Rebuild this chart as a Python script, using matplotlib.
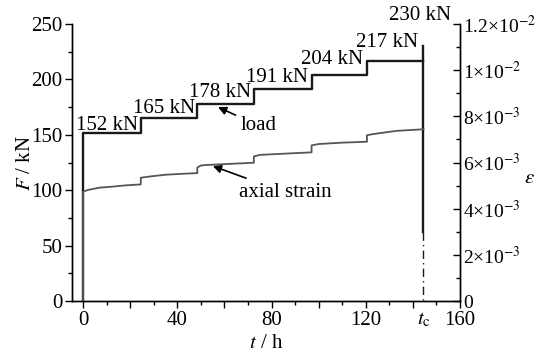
import numpy as np
import matplotlib
matplotlib.use('Agg')
import matplotlib.pyplot as plt
from matplotlib.ticker import MultipleLocator, FuncFormatter

plt.rcParams['font.family'] = ['Liberation Serif', 'DejaVu Serif']
plt.rcParams['mathtext.fontset'] = 'stix'
plt.rcParams['font.size'] = 15

# load steps (t in h, F in kN)
load_t = [0, 0, 24.5, 24.5, 48.5, 48.5, 72.5, 72.5, 97, 97, 120.5, 120.5, 144.5]
load_F = [0, 152, 152, 165, 165, 178, 178, 191, 191, 204, 204, 217, 217]
load_labels = ['152 kN', '165 kN', '178 kN', '191 kN', '204 kN', '217 kN', '230 kN']
label_t = [-3, 21, 45, 69, 92.5, 116, 130]
label_F = [154, 170, 184, 197.5, 214, 229, 253.5]

# failure at t_c
t_c = 144.5
F_fail = 230
F_dash = 62

# axial strain (x1e-3)
strain_t = [0, 0, 2, 7, 12, 18, 24.5,
            24.5, 28, 35, 42, 48.5,
            48.5, 50, 52, 60, 72.5,
            72.5, 75, 85, 97,
            97, 100, 110, 120.5,
            120.5, 123, 133, 144.5]
strain_e = [0, 4.73, 4.81, 4.91, 4.95, 5.01, 5.05,
            5.34, 5.39, 5.47, 5.51, 5.54,
            5.78, 5.87, 5.89, 5.93, 5.99,
            6.26, 6.33, 6.38, 6.44,
            6.74, 6.80, 6.86, 6.90,
            7.18, 7.23, 7.37, 7.44]

fig = plt.figure(figsize=(5.38, 3.53), dpi=100)
ax = fig.add_axes([0.1338, 0.1473, 0.855 - 0.1338, 0.932 - 0.1473])
ax2 = ax.twinx()

ax.plot(load_t, load_F, color='#1a1a1a', lw=1.7, zorder=3)
ax.plot([t_c, t_c], [F_fail, F_dash], color='#1a1a1a', lw=1.7, zorder=3)
ax.plot([t_c, t_c], [F_dash, 0], color='#1a1a1a', lw=1.0, ls=(0, (6, 3, 1, 3)), zorder=3)
ax2.plot(strain_t, np.array(strain_e) * 1e-3, color='#555555', lw=1.3)

for s, x, y in zip(load_labels, label_t, label_F):
    ax.text(x, y, s, ha='left', va='baseline', clip_on=False)

ax.annotate('load', xy=(57.3, 175), xytext=(67, 154), ha='left', va='baseline',
            arrowprops=dict(arrowstyle='-|>', color='black', lw=1.2, shrinkA=2, shrinkB=0,
                            mutation_scale=12))
ax.annotate('axial strain', xy=(55.1, 121.8), xytext=(66, 94), ha='left', va='baseline',
            arrowprops=dict(arrowstyle='-|>', color='black', lw=1.2, shrinkA=4, shrinkB=0,
                            mutation_scale=12))

ax.set_xlim(-4.7, 160)
ax.set_ylim(0, 250)
ax2.set_ylim(0, 1.2e-2)

ax.xaxis.set_major_locator(MultipleLocator(20))
ax.xaxis.set_minor_locator(MultipleLocator(10))
ax.xaxis.set_major_formatter(FuncFormatter(lambda v, p: '%d' % v if round(v) % 40 == 0 else ''))
ax.yaxis.set_major_locator(MultipleLocator(50))
ax.yaxis.set_minor_locator(MultipleLocator(25))
ax2.yaxis.set_major_locator(MultipleLocator(2e-3))
ax2.yaxis.set_minor_locator(MultipleLocator(1e-3))


def sci(v, p):
    if abs(v) < 1e-12:
        return '0'
    if v < 0:
        return ''
    e = int(np.floor(np.log10(v) + 1e-9))
    m = v / 10 ** e
    ms = ('%.1f' % m).rstrip('0').rstrip('.')
    return '%s\u00d710$^{%d}$' % (ms, e)


ax2.yaxis.set_major_formatter(FuncFormatter(sci))

ax.tick_params(which='both', direction='out', width=1, colors='black', labelsize=15, pad=2)
ax.tick_params(which='major', length=5)
ax.tick_params(which='minor', length=3)
ax2.tick_params(which='both', direction='in', width=1, labelsize=14, pad=2)
ax2.tick_params(which='major', length=5)
ax2.tick_params(which='minor', length=3)

for a in (ax, ax2):
    a.spines['top'].set_visible(False)
    for sp in ('left', 'right', 'bottom'):
        a.spines[sp].set_linewidth(1.0)

ax.text(t_c, -0.035, r'$t_{\mathrm{c}}$', transform=ax.get_xaxis_transform(),
        ha='center', va='top', fontsize=15)

ax.set_xlabel(r'$t$ / h', labelpad=3)
ax.set_ylabel(r'$F$ / kN', labelpad=-3)
ax2.set_ylabel(r'$\varepsilon$', rotation=0, va='center', ha='center')
ax2.yaxis.set_label_coords(1.18, 0.444)

fig.savefig('out.png', dpi=100)
